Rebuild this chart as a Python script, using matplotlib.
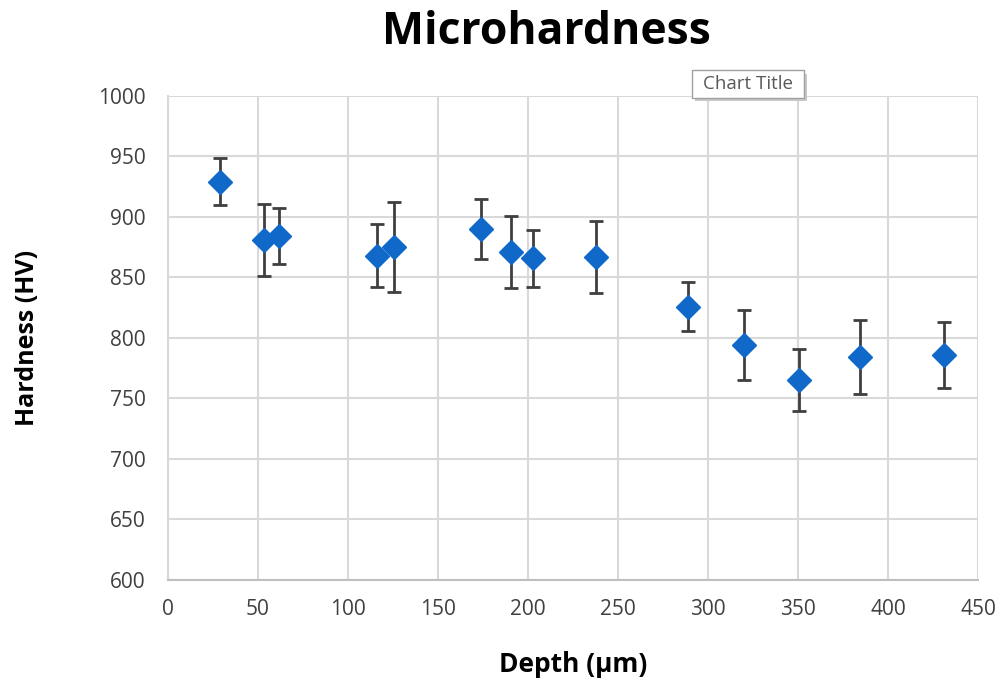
import numpy as np
import matplotlib
matplotlib.use('Agg')
import matplotlib.pyplot as plt
from matplotlib.patches import FancyBboxPatch

plt.rcParams['font.family'] = ['Open Sans', 'DejaVu Sans']

# Data
depth = [29, 53.5, 61.5, 116, 125.5, 174, 190.5, 202.5, 238, 289, 320, 350.5, 384.5, 431]
hardness = [929, 881, 884, 868, 875, 890, 871, 866, 867, 826, 794, 765, 784, 786]
err = [19.5, 30, 23, 26, 37, 25, 30, 23.5, 29.5, 20, 29, 25.5, 30.5, 27]

xticks = np.arange(0, 451, 50)
yticks = np.arange(600, 1001, 50)

fig = plt.figure(figsize=(10, 6.82), dpi=100)
ax = fig.add_axes([0.168, 0.1496, 0.81, 0.7097])

ax.errorbar(depth, hardness, yerr=err, fmt='D', color='#1068c8',
            markersize=12.5, ecolor='#3f3f3f', elinewidth=2,
            capsize=5, capthick=2, zorder=3)

ax.set_xlim(0, 450)
ax.set_ylim(600, 1000)
ax.set_xticks(xticks)
ax.set_yticks(yticks)
ax.grid(True, color='#d9d9d9', linewidth=1.5)
ax.set_axisbelow(True)
ax.tick_params(length=0, labelsize=15, labelcolor='#404040')
ax.tick_params(axis='y', pad=16)
ax.tick_params(axis='x', pad=14)
for s in ['top', 'right']:
    ax.spines[s].set_visible(False)
ax.spines['left'].set_color('#d9d9d9')
ax.spines['left'].set_linewidth(1.5)
ax.spines['bottom'].set_color('#bfbfbf')
ax.spines['bottom'].set_linewidth(1.5)

ax.set_xlabel('Depth (µm)', fontsize=19, fontweight='bold', labelpad=22)
ax.set_ylabel('Hardness (HV)', fontsize=18, fontweight='bold', labelpad=42)
fig.text(0.546, 0.952, 'Microhardness', ha='center', va='center',
         fontsize=32, fontweight='bold')

# "Chart Title" tooltip box with a soft shadow
shadow = FancyBboxPatch((0.695, 0.852), 0.112, 0.040, boxstyle='square,pad=0',
                        transform=fig.transFigure, facecolor='#c8c8c8',
                        edgecolor='none', zorder=5)
box = FancyBboxPatch((0.692, 0.857), 0.112, 0.040, boxstyle='square,pad=0',
                     transform=fig.transFigure, facecolor='white',
                     edgecolor='#a0a0a0', linewidth=1, zorder=6)
fig.patches.extend([shadow, box])
fig.text(0.748, 0.877, 'Chart Title', ha='center', va='center',
         fontsize=13.5, color='#595959', zorder=7)

fig.savefig('out.png', dpi=100)
